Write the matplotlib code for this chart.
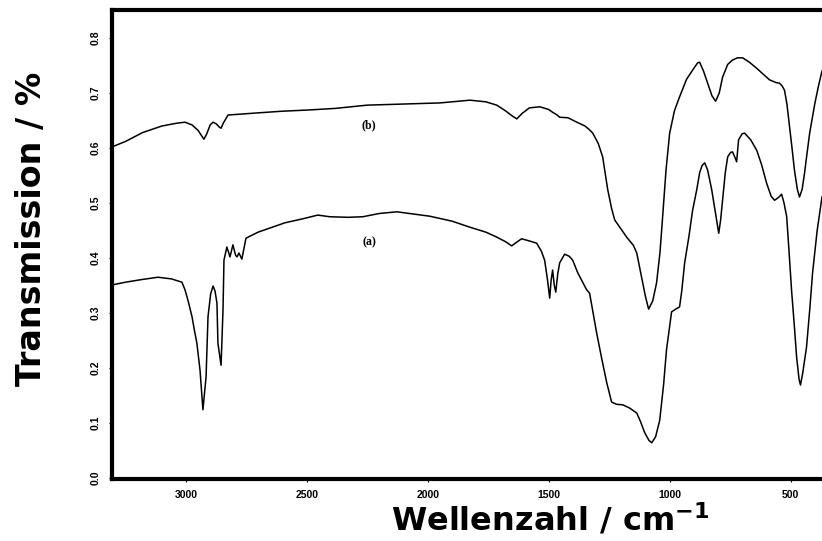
import matplotlib
matplotlib.use("Agg")
import matplotlib.pyplot as plt

# IR spectra (wavenumber in cm^-1, transmission)
wn_b = [3306, 3250, 3180, 3100, 3040, 3004, 2975, 2950, 2935, 2926, 2915, 2900,
        2888, 2875, 2862, 2855, 2845, 2826, 2700, 2600, 2500, 2384, 2250, 2100,
        1950, 1826, 1760, 1715, 1680, 1650, 1632, 1610, 1580, 1537, 1500, 1484,
        1465, 1455, 1420, 1384, 1350, 1331, 1318, 1295, 1277, 1256, 1240, 1227,
        1200, 1178, 1150, 1136, 1116, 1100, 1087, 1070, 1054, 1040, 1029, 1015,
        1000, 980, 959, 930, 900, 884, 876, 860, 843, 825, 810, 795, 781, 760,
        740, 720, 698, 670, 640, 610, 587, 560, 546, 535, 525, 515, 504, 494,
        484, 472, 463, 452, 442, 432, 421, 400, 385, 370]
tr_b = [0.602, 0.612, 0.628, 0.640, 0.645, 0.647, 0.642, 0.632, 0.622, 0.616,
        0.625, 0.642, 0.647, 0.644, 0.638, 0.636, 0.646, 0.660, 0.664, 0.667,
        0.669, 0.672, 0.678, 0.680, 0.682, 0.687, 0.684, 0.678, 0.668, 0.658,
        0.653, 0.663, 0.673, 0.675, 0.670, 0.665, 0.660, 0.656, 0.655, 0.647,
        0.640, 0.633, 0.627, 0.608, 0.584, 0.524, 0.490, 0.469, 0.452, 0.438,
        0.423, 0.409, 0.365, 0.330, 0.307, 0.322, 0.355, 0.410, 0.475, 0.560,
        0.627, 0.668, 0.693, 0.725, 0.745, 0.755, 0.756, 0.740, 0.718, 0.695,
        0.685, 0.700, 0.729, 0.752, 0.760, 0.764, 0.764, 0.756, 0.745, 0.733,
        0.724, 0.719, 0.718, 0.713, 0.705, 0.680, 0.638, 0.600, 0.560, 0.525,
        0.511, 0.525, 0.555, 0.590, 0.627, 0.680, 0.712, 0.740]

wn_a = [3306, 3250, 3180, 3116, 3060, 3017, 3004, 2990, 2975, 2965, 2955, 2942,
        2930, 2917, 2909, 2898, 2888, 2880, 2872, 2868, 2855, 2847, 2843, 2831,
        2818, 2806, 2795, 2789, 2781, 2769, 2752, 2702, 2650, 2591, 2520, 2455,
        2405, 2330, 2269, 2200, 2128, 2060, 1992, 1900, 1826, 1760, 1715, 1680,
        1653, 1635, 1612, 1580, 1550, 1530, 1517, 1505, 1496, 1490, 1484, 1477,
        1471, 1463, 1455, 1434, 1415, 1401, 1380, 1343, 1331, 1302, 1280, 1260,
        1240, 1220, 1194, 1165, 1136, 1120, 1103, 1085, 1074, 1058, 1041, 1025,
        1013, 992, 975, 959, 950, 938, 920, 905, 888, 876, 866, 855, 843, 826,
        810, 797, 789, 781, 770, 760, 748, 740, 730, 723, 715, 700, 690, 665,
        640, 620, 599, 580, 566, 550, 537, 527, 516, 506, 496, 485, 475, 465,
        459, 450, 434, 420, 409, 390, 370]
tr_a = [0.351, 0.356, 0.361, 0.365, 0.362, 0.356, 0.342, 0.320, 0.293, 0.268,
        0.245, 0.196, 0.124, 0.184, 0.293, 0.335, 0.349, 0.340, 0.318, 0.245,
        0.205, 0.305, 0.396, 0.420, 0.402, 0.424, 0.405, 0.402, 0.409, 0.398,
        0.436, 0.447, 0.455, 0.464, 0.471, 0.478, 0.475, 0.474, 0.475, 0.481,
        0.484, 0.480, 0.476, 0.467, 0.456, 0.447, 0.438, 0.430, 0.422, 0.428,
        0.435, 0.431, 0.427, 0.412, 0.396, 0.360, 0.327, 0.360, 0.378, 0.350,
        0.338, 0.370, 0.391, 0.407, 0.403, 0.396, 0.373, 0.342, 0.336, 0.264,
        0.215, 0.173, 0.138, 0.134, 0.133, 0.127, 0.118, 0.102, 0.082, 0.068,
        0.064, 0.075, 0.105, 0.170, 0.233, 0.302, 0.307, 0.311, 0.340, 0.391,
        0.440, 0.487, 0.524, 0.555, 0.568, 0.573, 0.560, 0.524, 0.480, 0.445,
        0.470, 0.505, 0.555, 0.584, 0.592, 0.593, 0.583, 0.575, 0.615, 0.626,
        0.627, 0.615, 0.596, 0.570, 0.536, 0.512, 0.505, 0.510, 0.516, 0.500,
        0.475, 0.410, 0.342, 0.280, 0.220, 0.180, 0.169, 0.190, 0.238, 0.310,
        0.373, 0.450, 0.511]

x_ticks = [3000, 2500, 2000, 1500, 1000, 500]
y_ticks = [0.0, 0.1, 0.2, 0.3, 0.4, 0.5, 0.6, 0.7, 0.8]

plt.rcParams["font.family"] = ["Liberation Sans", "DejaVu Sans"]

fig = plt.figure(figsize=(8.22, 5.41), dpi=100)
ax = fig.add_axes([112 / 822, 1 - 478.5 / 541, 1 - 112 / 822, 468.5 / 541])

ax.plot(wn_b, tr_b, color="black", lw=1.1)
ax.plot(wn_a, tr_a, color="black", lw=1.1)

ax.text(2243, 0.642, "(b)", fontsize=8.5, fontweight="bold", family="Liberation Serif",
        ha="center", va="center")
ax.text(2240, 0.429, "(a)", fontsize=8.5, fontweight="bold", family="Liberation Serif",
        ha="center", va="center")

ax.set_xlim(3306, 370)
ax.set_ylim(-0.001, 0.851)
ax.set_xticks(x_ticks)
ax.set_xticklabels([str(t) for t in x_ticks])
ax.set_yticks(y_ticks)
ax.set_yticklabels([f"{t:.1f}" for t in y_ticks])

for side in ["left", "bottom", "top"]:
    ax.spines[side].set_linewidth(3)
ax.spines["right"].set_visible(False)

ax.tick_params(axis="both", direction="out", length=2, width=0.8,
               labelsize=7.5, pad=6)
ax.tick_params(axis="y", labelrotation=90)
for lab in ax.get_xticklabels() + ax.get_yticklabels():
    lab.set_fontweight("bold")
for lab in ax.get_yticklabels():
    lab.set_va("center")

fig.text(31 / 822, 1 - 229 / 541, "Transmission / %", rotation=90,
         fontsize=24, fontweight="bold", family="DejaVu Sans",
         ha="center", va="center")
fig.text(550 / 822, 1 - 531 / 541, "Wellenzahl / cm$^{\\mathbf{-1}}$",
         fontsize=23, fontweight="bold", family="DejaVu Sans",
         ha="center", va="baseline")

fig.savefig("out.png", dpi=100, facecolor="white")
